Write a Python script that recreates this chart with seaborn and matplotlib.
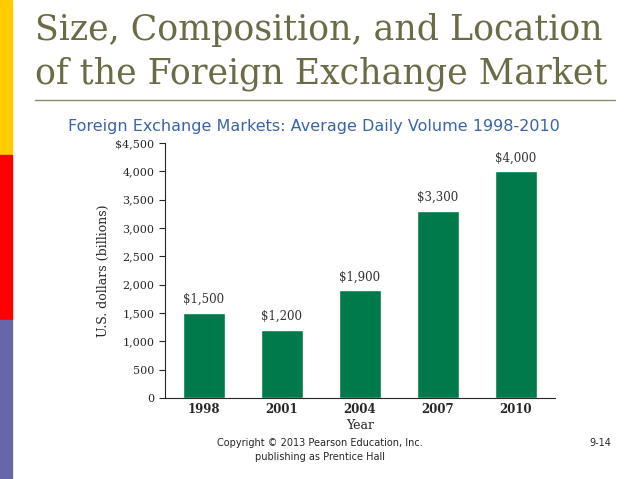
import matplotlib
matplotlib.use("Agg")
import matplotlib.pyplot as plt
import seaborn as sns
import pandas as pd

# -----------------------------
# Data
# -----------------------------
years = ["1998", "2001", "2004", "2007", "2010"]
volume = [1500, 1200, 1900, 3300, 4000]
value_labels = ["$1,500", "$1,200", "$1,900", "$3,300", "$4,000"]
ytick_vals = [0, 500, 1000, 1500, 2000, 2500, 3000, 3500, 4000, 4500]
ytick_labels = ["0", "500", "1,000", "1,500", "2,000", "2,500", "3,000", "3,500", "4,000", "$4,500"]

df = pd.DataFrame({"Year": years, "Volume": volume})

sns.set_style("white")
fig = plt.figure(figsize=(6.38, 4.79), dpi=100)

# side colour stripes
fig.patches.append(plt.Rectangle((0, 1 - 155 / 479), 12 / 638, 155 / 479, transform=fig.transFigure, color="#FFCC00"))
fig.patches.append(plt.Rectangle((0, 1 - 320 / 479), 12 / 638, 165 / 479, transform=fig.transFigure, color="#FF0000"))
fig.patches.append(plt.Rectangle((0, 0), 12 / 638, 159 / 479, transform=fig.transFigure, color="#6666A8"))

# title
fig.text(35 / 638, 1 - 30 / 479, "Size, Composition, and Location", fontsize=25, family="DejaVu Serif",
         color="#6B6B45", va="center")
fig.text(35 / 638, 1 - 74 / 479, "of the Foreign Exchange Market", fontsize=25, family="DejaVu Serif",
         color="#6B6B45", va="center")
fig.add_artist(plt.Line2D([35 / 638, 615 / 638], [1 - 100 / 479] * 2, color="#8A8A70", lw=1))
fig.text(68 / 638, 1 - 126 / 479, "Foreign Exchange Markets: Average Daily Volume 1998-2010",
         fontsize=11.5, color="#3A64A8", va="center")

# chart
ax = fig.add_axes([165 / 638, 1 - 398 / 479, 390 / 638, 255 / 479])
sns.barplot(data=df, x="Year", y="Volume", color="#007A4A", width=0.55, saturation=1, ax=ax)
for i, (v, lab) in enumerate(zip(volume, value_labels)):
    ax.text(i, v + 120, lab, ha="center", va="bottom", fontsize=8.5, family="DejaVu Serif", color="#333333")

ax.set_ylim(0, 4500)
ax.set_yticks(ytick_vals)
ax.set_yticklabels(ytick_labels, fontsize=8, family="DejaVu Serif")
ax.set_xticks(range(len(years)))
ax.set_xticklabels(years, fontsize=8.5, family="DejaVu Serif", fontweight="bold")
ax.set_ylabel("U.S. dollars (billions)", fontsize=9, family="DejaVu Serif")
ax.set_xlabel("Year", fontsize=9, family="DejaVu Serif", labelpad=2)
for s in ["top", "right"]:
    ax.spines[s].set_visible(False)
ax.tick_params(axis="y", direction="out", length=4, left=True)
ax.tick_params(axis="x", length=0)

# footer
fig.text(320 / 638, 1 - 443 / 479, "Copyright © 2013 Pearson Education, Inc.", fontsize=7, ha="center", va="center")
fig.text(320 / 638, 1 - 457 / 479, "publishing as Prentice Hall", fontsize=7, ha="center", va="center")
fig.text(600 / 638, 1 - 443 / 479, "9-14", fontsize=7, ha="center", va="center")

fig.savefig("out.png", dpi=100)
